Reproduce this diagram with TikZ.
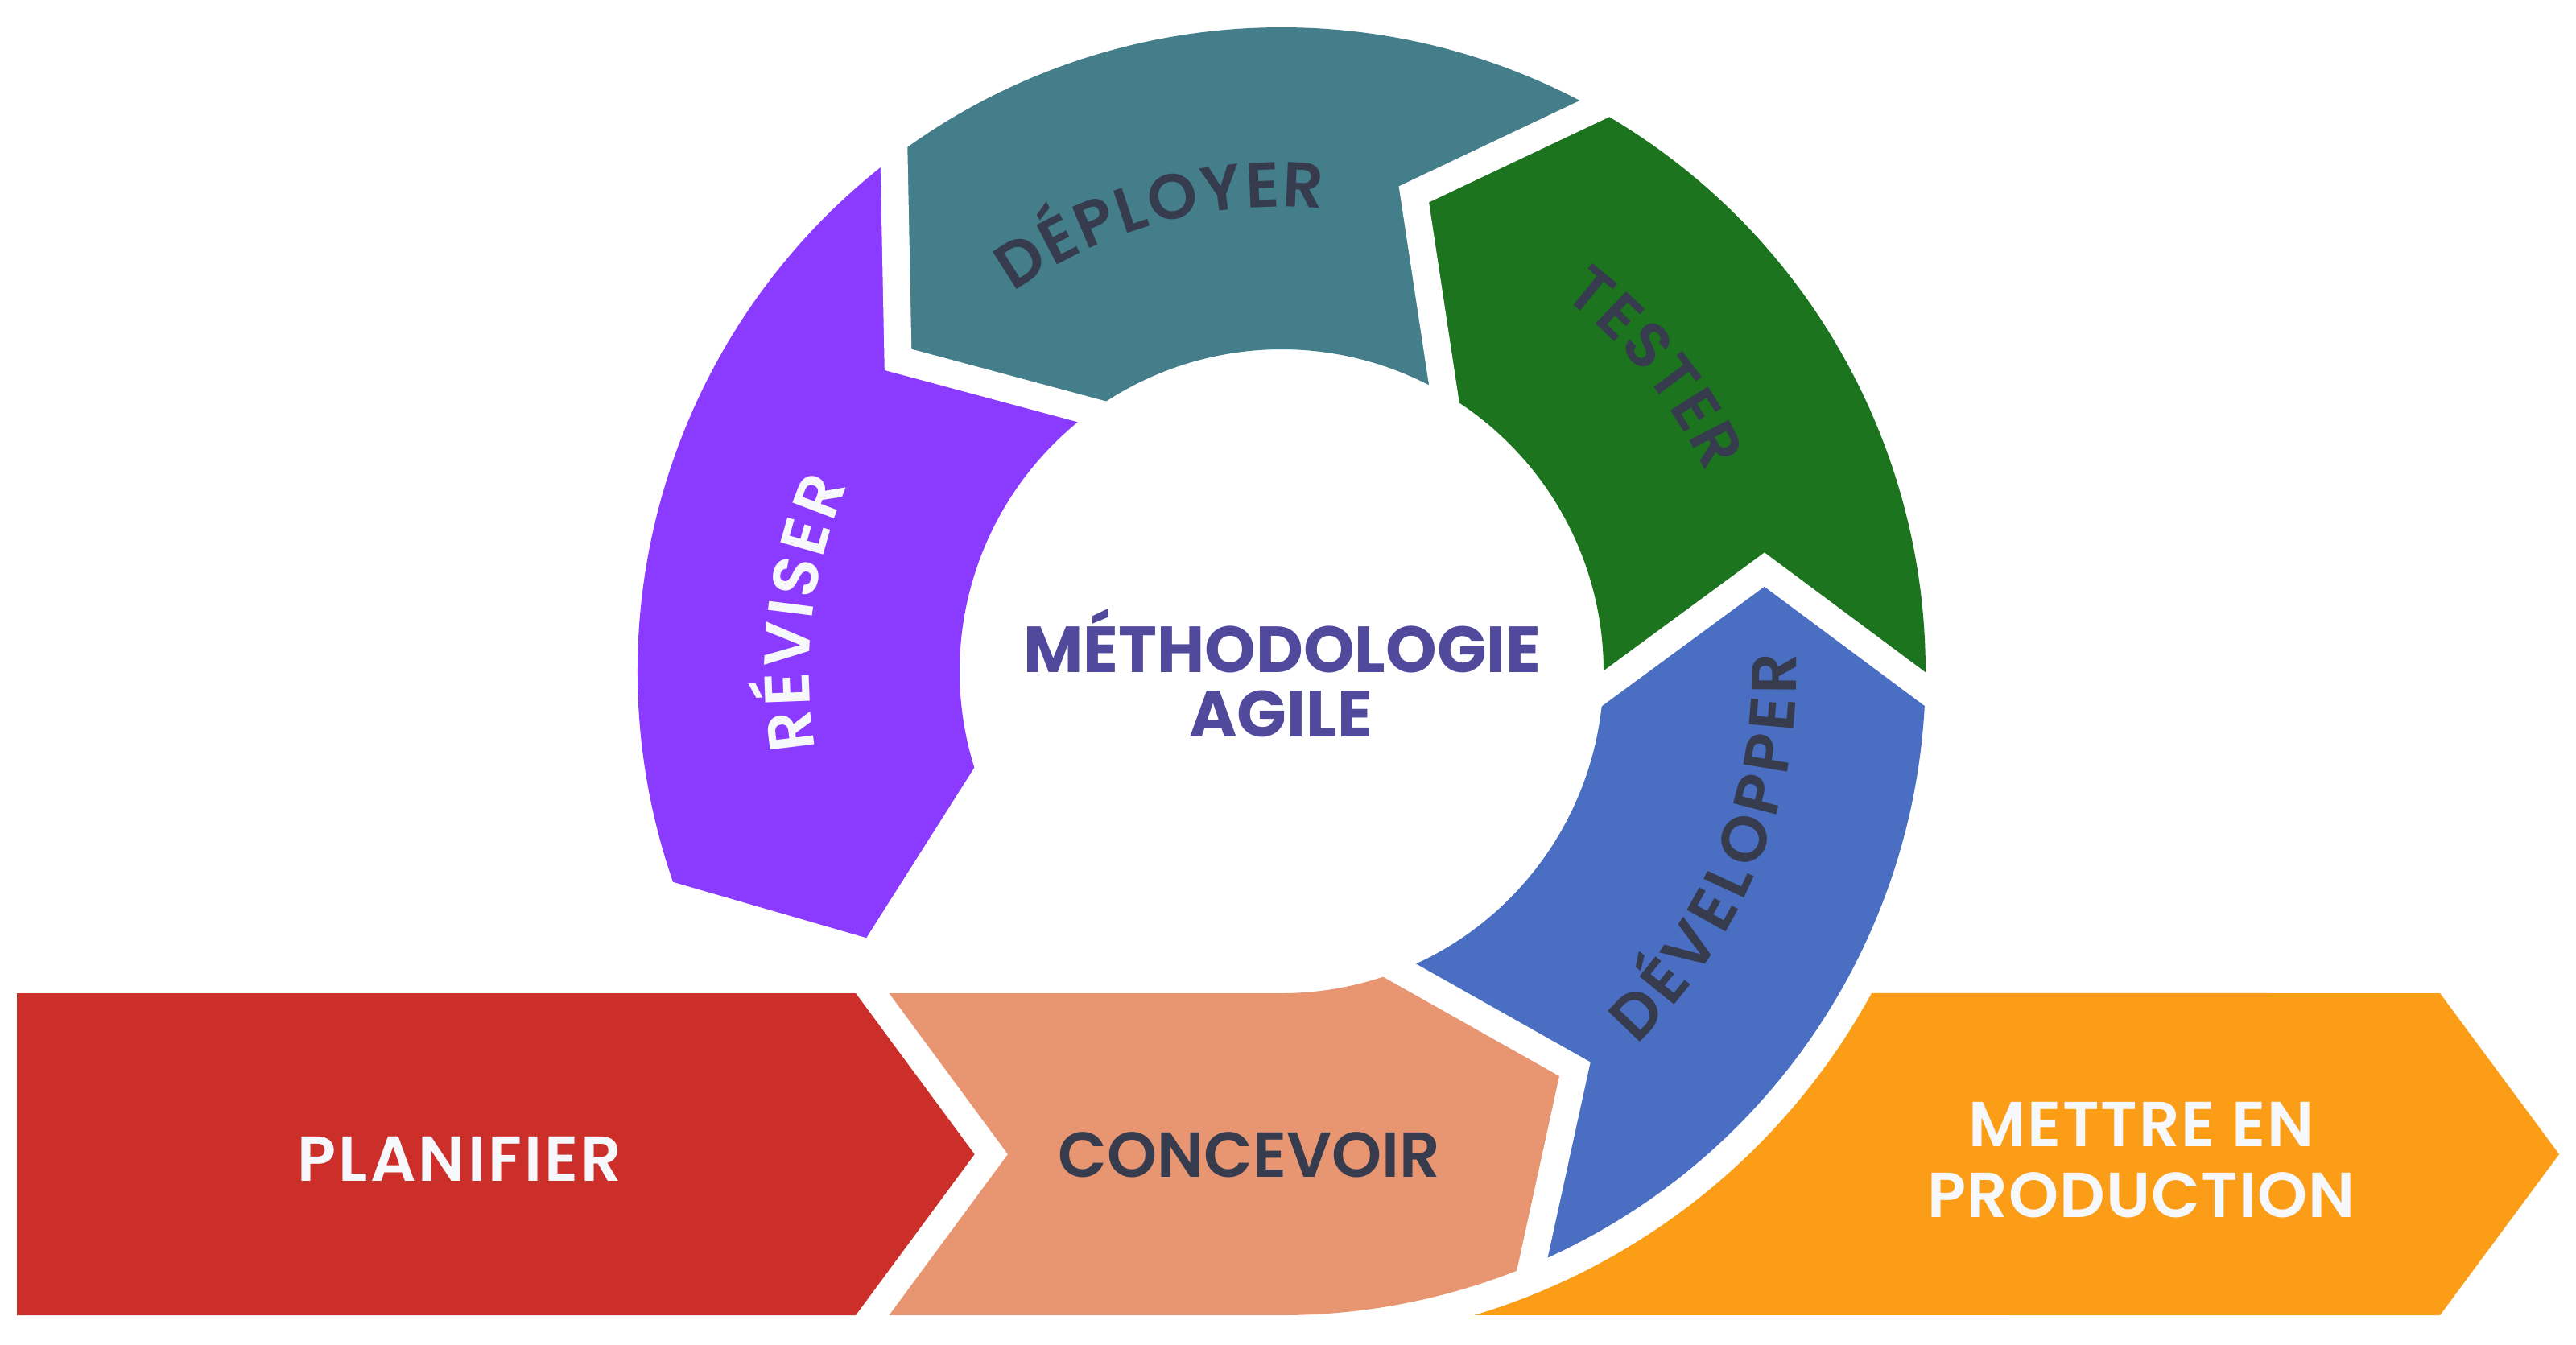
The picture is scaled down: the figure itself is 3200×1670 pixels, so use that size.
\documentclass[tikz,border=0pt]{standalone}
\usepackage{fontspec}
\setmainfont{Poppins}
\newfontface\semib{Poppins SemiBold}
\newfontface\boldf{Poppins Bold}
\usetikzlibrary{decorations.text,calc}
\definecolor{cTeal}{HTML}{437E8A}
\definecolor{cGreen}{HTML}{1C741F}
\definecolor{cPurple}{HTML}{8B3AFF}
\definecolor{cBlue}{HTML}{4A6FC2}
\definecolor{cRed}{HTML}{CC2E29}
\definecolor{cSalmon}{HTML}{E89571}
\definecolor{cOrange}{HTML}{FB9D17}
\definecolor{cDark}{HTML}{363C4D}
\definecolor{cIndigo}{HTML}{514A9C}
\definecolor{cWhite}{HTML}{F7F8FC}
\tikzset{
  gapline/.style={draw=white, line width=34, line join=miter, miter limit=10},
  lbl/.style={inner sep=0pt, outer sep=0pt, anchor=base, font=\semib\fontsize{79}{79}\selectfont},
  ctr/.style={inner sep=0pt, outer sep=0pt, anchor=base, text=cIndigo, font=\boldf\fontsize{81}{81}\selectfont},
  arctext/.style={decorate, decoration={text along path, text align={fit to path}, text color=#1}},
}
\begin{document}
\begin{tikzpicture}[x=1pt,y=1pt]
\useasboundingbox (0,0) rectangle (3200,-1670);
\fill[white] (0,0) rectangle (3200,-1670);
\coordinate (C) at (1592,-834);
\begin{scope}[shift={(1592,-834)}]
  % chevron boundaries (mid-lines of the white gaps)
  \coordinate (b1i) at (-68.4:400); \coordinate (b1v) at (-53.6:614); \coordinate (b1o) at (-67.1:800);
  \coordinate (b2i) at (-3.0:400);  \coordinate (b2v) at (11.9:613);  \coordinate (b2o) at (-1.6:800);
  \coordinate (b3i) at (59.7:400);  \coordinate (b3v) at (74.5:615);  \coordinate (b3o) at (60.9:800);
  \coordinate (b4i) at (126.2:400); \coordinate (b4v) at (140.9:614); \coordinate (b4o) at (127:800);
  \coordinate (rvi) at (197.4:400); \coordinate (rvt) at (212.7:613); \coordinate (rvo) at (199.1:800);
  % Concevoir
  \fill[cSalmon] (-90:400) arc[start angle=-90, end angle=-68.4, radius=400] -- (b1v) -- (b1o)
     arc[start angle=-67.1, end angle=-90, radius=800] -- (-487.5,-800) -- (-340,-600) -- (-487.5,-400) -- cycle;
  % Developper
  \fill[cBlue] (b1i) arc[start angle=-68.4, end angle=-3.0, radius=400] -- (b2v) -- (b2o)
     arc[start angle=-1.6, end angle=-67.1, radius=800] -- (b1v) -- cycle;
  % Tester
  \fill[cGreen] (b2i) arc[start angle=-3.0, end angle=59.7, radius=400] -- (b3v) -- (b3o)
     arc[start angle=60.9, end angle=-1.6, radius=800] -- (b2v) -- cycle;
  % Deployer
  \fill[cTeal] (b3i) arc[start angle=59.7, end angle=126.2, radius=400] -- (b4v) -- (b4o)
     arc[start angle=127, end angle=60.9, radius=800] -- (b3v) -- cycle;
  % Reviser
  \fill[cPurple] (b4i) arc[start angle=126.2, end angle=197.4, radius=400] -- (rvt) -- (rvo)
     arc[start angle=199.1, end angle=127, radius=800] -- (b4v) -- cycle;
  % white gaps
  \draw[gapline] ($(b1i)!-0.3!(b1v)$) -- (b1i) -- (b1v) -- (b1o) -- ($(b1o)!-0.3!(b1v)$);
  \draw[gapline] ($(b2i)!-0.3!(b2v)$) -- (b2i) -- (b2v) -- (b2o) -- ($(b2o)!-0.3!(b2v)$);
  \draw[gapline] ($(b3i)!-0.3!(b3v)$) -- (b3i) -- (b3v) -- (b3o) -- ($(b3o)!-0.3!(b3v)$);
  \draw[gapline] ($(b4i)!-0.3!(b4v)$) -- (b4i) -- (b4v) -- (b4o) -- ($(b4o)!-0.3!(b4v)$);
  % curved labels
  \path[arctext=cDark, decoration={text={|\semib\fontsize{79}{79}\selectfont|DÉPLOYER}}]
     (125.3:577) arc[start angle=125.3, end angle=84.9, radius=577];
  \path[arctext=cDark, decoration={text={|\semib\fontsize{79}{79}\selectfont|TESTER}}]
     (53.1:582) arc[start angle=53.1, end angle=25.0, radius=582];
  \path[arctext=cWhite, decoration={text={|\semib\fontsize{79}{79}\selectfont|RÉVISER}}]
     (189.5:587) arc[start angle=189.5, end angle=156.8, radius=587];
  \path[arctext=cDark, decoration={text={|\semib\fontsize{79}{79}\selectfont|DÉVELOPPER}}]
     (-46.5:640) arc[start angle=-46.5, end angle=2.0, radius=640];
\end{scope}
% Planifier
\fill[cRed] (21,-1234) -- (1063,-1234) -- (1210.6,-1434) -- (1063,-1634) -- (21,-1634) -- cycle;
% Mettre en production
\fill[cOrange] ($(C)+(-73.35:835)$) arc[start angle=-73.35, end angle=-28.62, radius=835]
   -- (3031,-1234) -- (3179,-1434) -- (3031,-1634) -- cycle;
% labels
\node[lbl, text=cWhite, font=\semib\fontsize{79}{79}\selectfont\addfontfeature{LetterSpace=4}] (plan) at (571,-1467.7) {PLANIFIER};
\node[lbl, text=cDark] (conc) at (1552,-1462.4) {CONCEVOIR};
\node[lbl, text=cWhite, font=\semib\fontsize{79}{79}\selectfont\addfontfeature{LetterSpace=2.4}] (mep1) at (2660,-1424) {METTRE EN};
\node[lbl, text=cWhite, font=\semib\fontsize{79}{79}\selectfont\addfontfeature{LetterSpace=1.5}] (mep2) at (2660,-1512) {PRODUCTION};
\node[ctr] (meth) at (1593,-835.7) {MÉTHODOLOGIE};
\node[ctr] (agil) at (1591,-915.7) {AGILE};
\end{tikzpicture}
\end{document}
